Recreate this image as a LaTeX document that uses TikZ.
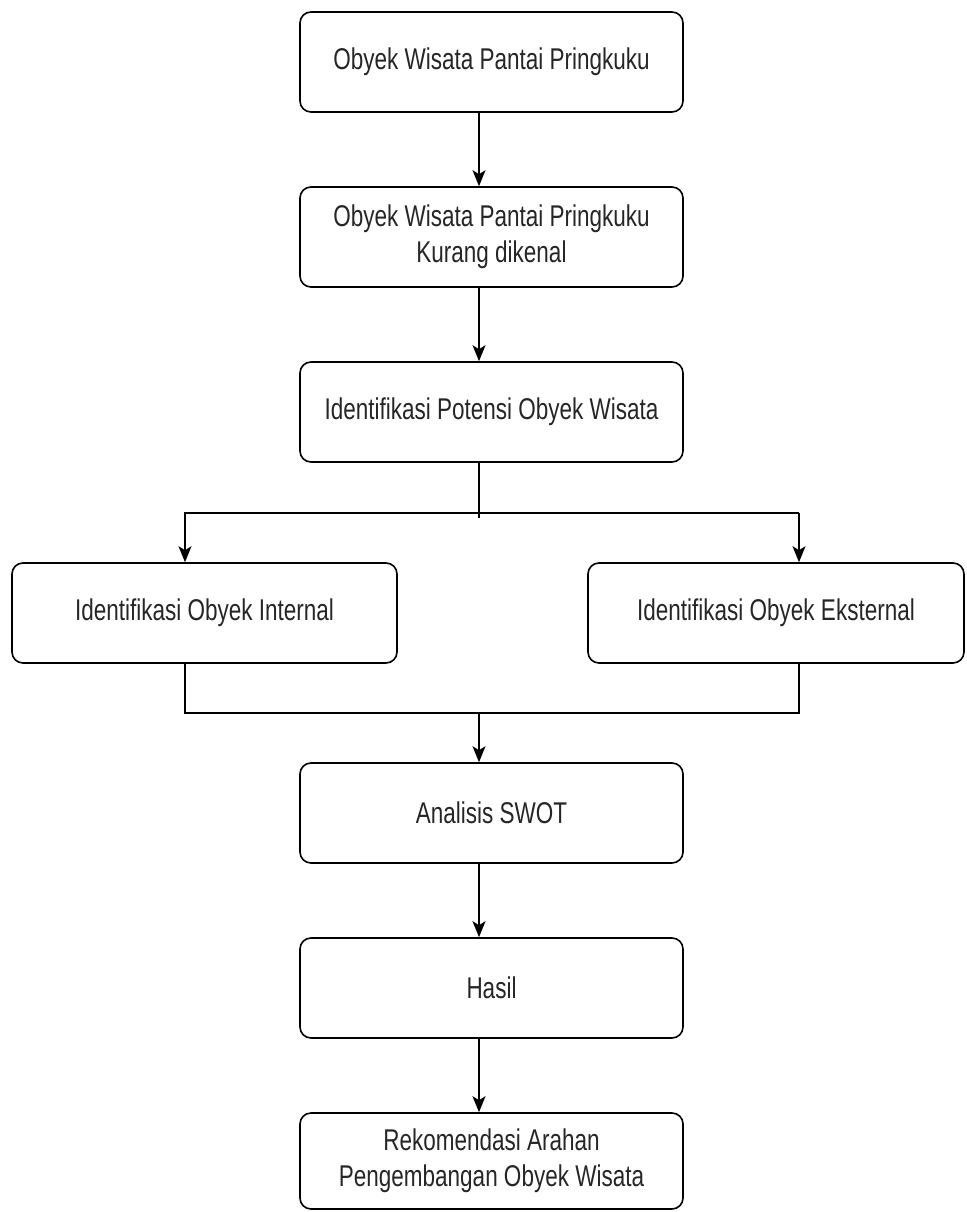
\documentclass[tikz,border=0pt]{standalone}
\usepackage{fontspec}
\setmainfont[FakeStretch=0.75]{Liberation Sans}
\usetikzlibrary{arrows.meta, calc, positioning}

\begin{document}
\begin{tikzpicture}[x=1pt, y=-1pt,
  box/.style={draw, line width=1.6pt, rounded corners=11pt, align=center,
    minimum width=383pt, minimum height=100pt, inner sep=0pt,
    text=black!85, font=\fontsize{30}{36}\selectfont},
  link/.style={line width=1.6pt},
  arr/.style={link, -{Stealth[length=16pt, width=13pt, inset=4pt]}}]
\useasboundingbox (0,0) rectangle (966,1212);
% Guide lines for the connectors
\coordinate (spine) at (479,0);
\coordinate (lspine) at (185,0);
\coordinate (rspine) at (799,0);
% Draw boxes
\node[box] (obyek) at (491.5,62) {Obyek Wisata Pantai Pringkuku};
\node[box] (kurang) at (491.5,237) {Obyek Wisata Pantai Pringkuku\\Kurang dikenal};
\node[box] (potensi) at (491.5,412) {Identifikasi Potensi Obyek Wisata};
\node[box, minimum width=385pt] (internal) at (204.5,613) {Identifikasi Obyek Internal};
\node[box, minimum width=376pt] (eksternal) at (776,613) {Identifikasi Obyek Eksternal};
\node[box] (swot) at (491.5,813) {Analisis SWOT};
\node[box] (hasil) at (491.5,988) {Hasil};
\node[box, minimum height=96pt] (rekom) at (491.5,1161) {Rekomendasi Arahan\\Pengembangan Obyek Wisata};
% Straight arrows
\draw[arr] (obyek.south -| spine) -- (kurang.north -| spine);
\draw[arr] (kurang.south -| spine) -- (potensi.north -| spine);
% Split to internal and external
\coordinate (split) at ($(potensi.south -| spine)+(0,50)$);
\draw[link] (potensi.south -| spine) -- ++(0,55);
\draw[arr] (split -| rspine) -- (split -| lspine) -- (internal.north -| lspine);
\draw[arr] (split -| rspine) -- (eksternal.north -| rspine);
% Join to SWOT
\coordinate (join) at (479,713);
\draw[link] (internal.south -| lspine) -- (join -| lspine) -- (join -| rspine) -- (eksternal.south -| rspine);
\draw[arr] (join) -- (swot.north -| spine);
\draw[arr] (swot.south -| spine) -- (hasil.north -| spine);
\draw[arr] (hasil.south -| spine) -- (rekom.north -| spine);
\end{tikzpicture}
\end{document}
